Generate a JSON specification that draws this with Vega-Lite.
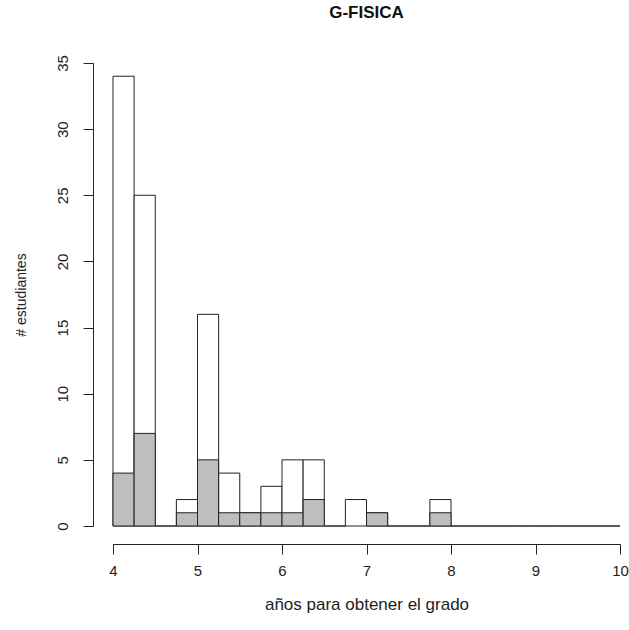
{
  "$schema": "https://vega.github.io/schema/vega-lite/v6.json",
  "autosize": "none",
  "padding": {"left": 113, "top": 63, "right": 9, "bottom": 104},
  "width": 507,
  "height": 463,
  "background": "white",
  "title": {
    "text": "G-FISICA",
    "font": "Liberation Sans",
    "fontSize": 17,
    "fontWeight": "bold",
    "color": "#111",
    "anchor": "middle",
    "offset": 33
  },
  "config": {
    "view": {"stroke": null},
    "axis": {
      "labelFont": "Liberation Sans",
      "titleFont": "Liberation Sans",
      "labelFontSize": 15,
      "titleFontSize": 16,
      "titleFontWeight": "normal",
      "labelColor": "#222",
      "titleColor": "#222",
      "domainColor": "#222",
      "tickColor": "#222",
      "grid": false,
      "tickSize": 10,
      "domainWidth": 1,
      "tickWidth": 1
    }
  },
  "data": {
    "values": [
      {"x0": 4.00, "x1": 4.25, "total": 34, "gray": 4},
      {"x0": 4.25, "x1": 4.50, "total": 25, "gray": 7},
      {"x0": 4.50, "x1": 4.75, "total": 0, "gray": 0},
      {"x0": 4.75, "x1": 5.00, "total": 2, "gray": 1},
      {"x0": 5.00, "x1": 5.25, "total": 16, "gray": 5},
      {"x0": 5.25, "x1": 5.50, "total": 4, "gray": 1},
      {"x0": 5.50, "x1": 5.75, "total": 1, "gray": 1},
      {"x0": 5.75, "x1": 6.00, "total": 3, "gray": 1},
      {"x0": 6.00, "x1": 6.25, "total": 5, "gray": 1},
      {"x0": 6.25, "x1": 6.50, "total": 5, "gray": 2},
      {"x0": 6.50, "x1": 6.75, "total": 0, "gray": 0},
      {"x0": 6.75, "x1": 7.00, "total": 2, "gray": 0},
      {"x0": 7.00, "x1": 7.25, "total": 1, "gray": 1},
      {"x0": 7.25, "x1": 7.50, "total": 0, "gray": 0},
      {"x0": 7.50, "x1": 7.75, "total": 0, "gray": 0},
      {"x0": 7.75, "x1": 8.00, "total": 2, "gray": 1},
      {"x0": 8.00, "x1": 8.25, "total": 0, "gray": 0},
      {"x0": 8.25, "x1": 8.50, "total": 0, "gray": 0},
      {"x0": 8.50, "x1": 8.75, "total": 0, "gray": 0},
      {"x0": 8.75, "x1": 9.00, "total": 0, "gray": 0},
      {"x0": 9.00, "x1": 9.25, "total": 0, "gray": 0},
      {"x0": 9.25, "x1": 9.50, "total": 0, "gray": 0},
      {"x0": 9.50, "x1": 9.75, "total": 0, "gray": 0},
      {"x0": 9.75, "x1": 10.00, "total": 0, "gray": 0}
    ]
  },
  "layer": [
    {
      "mark": {"type": "rect", "fill": "white", "stroke": "#222", "strokeWidth": 1},
      "encoding": {
        "x": {
          "field": "x0", "type": "quantitative",
          "scale": {"domain": [4, 10], "nice": false, "zero": false},
          "axis": {
            "values": [4, 5, 6, 7, 8, 9, 10],
            "format": "d",
            "labelFlush": false,
            "labelOverlap": false,
            "offset": 18,
            "labelPadding": 9,
            "title": "años para obtener el grado",
            "titlePadding": 18,
            "titleFontSize": 17,
            "labelAngle": 0
          }
        },
        "x2": {"field": "x1"},
        "y": {
          "field": "total", "type": "quantitative",
          "scale": {"domain": [0, 35], "nice": false},
          "axis": {
            "values": [0, 5, 10, 15, 20, 25, 30, 35],
            "offset": 20,
            "labelAngle": -90,
            "labelAlign": "center",
            "labelBaseline": "bottom",
            "labelPadding": 13,
            "labelOverlap": false,
            "title": "# estudiantes",
            "titleFontSize": 14,
            "titlePadding": 27
          }
        },
        "y2": {"datum": 0}
      }
    },
    {
      "transform": [{"filter": "datum.gray > 0"}],
      "mark": {"type": "rect", "fill": "#bebebe", "stroke": "#222", "strokeWidth": 1},
      "encoding": {
        "x": {"field": "x0", "type": "quantitative"},
        "x2": {"field": "x1"},
        "y": {"field": "gray", "type": "quantitative"},
        "y2": {"datum": 0}
      }
    }
  ]
}
